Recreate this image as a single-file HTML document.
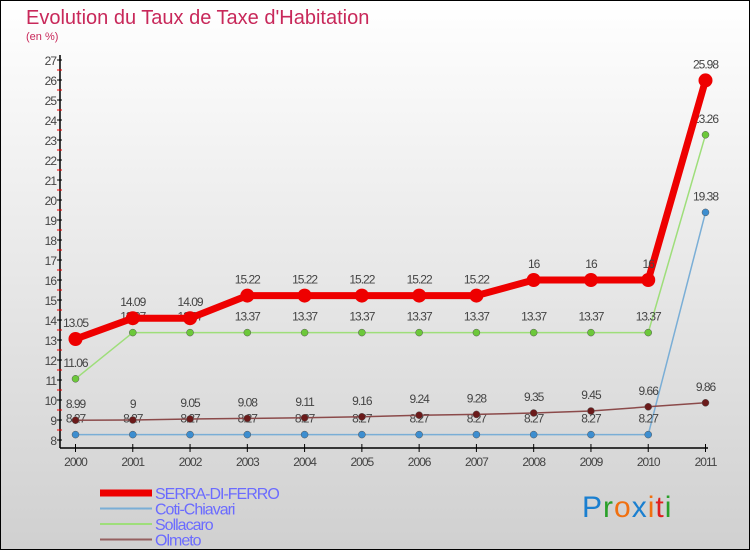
<!DOCTYPE html>
<html><head><meta charset="utf-8"><style>
body{margin:0;}
#c{width:750px;height:550px;position:relative;box-sizing:border-box;border:1px solid #000;background:linear-gradient(#ffffff,#d0d0d0);font-family:"Liberation Sans",sans-serif;overflow:hidden}
</style></head><body>
<div id="c">
<svg id="s" width="750" height="550" style="position:absolute;left:-1px;top:-1px" font-family="Liberation Sans, sans-serif">
<text x="26" y="24" font-size="20" fill="#c8285a">Evolution du Taux de Taxe d'Habitation</text>
<text x="26" y="40" font-size="11" fill="#c8285a">(en %)</text>
</svg>
</div>
<script>
const years=["2000","2001","2002","2003","2004","2005","2006","2007","2008","2009","2010","2011"];
const serra=[13.05,14.09,14.09,15.22,15.22,15.22,15.22,15.22,16,16,16,25.98];
const coti=[8.27,8.27,8.27,8.27,8.27,8.27,8.27,8.27,8.27,8.27,8.27,19.38];
const sollacaro=[11.06,13.37,13.37,13.37,13.37,13.37,13.37,13.37,13.37,13.37,13.37,23.26];
const olmeto=[8.99,9,9.05,9.08,9.11,9.16,9.24,9.28,9.35,9.45,9.66,9.86];
const yTicks=[8,9,10,11,12,13,14,15,16,17,18,19,20,21,22,23,24,25,26,27];
const NS="http://www.w3.org/2000/svg";
const svg=document.getElementById('s');
const X=i=>75.5+i*(705.5-75.5)/(years.length-1);
const Y=v=>440-(v-8)*20;
function el(t,a,p){const e=document.createElementNS(NS,t);for(const k in a)e.setAttribute(k,a[k]);(p||svg).appendChild(e);return e;}
let ya=el('line',{x1:60,y1:55,x2:60,y2:448,stroke:'#000','stroke-width':1.5});


let xa=el('line',{x1:60,y1:448,x2:708,y2:448,stroke:'#000','stroke-width':1.5});


yTicks.forEach(v=>{
 el('line',{x1:57,y1:Y(v),x2:62,y2:Y(v),stroke:'#000'});
 if(v<27) el('line',{x1:57,y1:Y(v)-10,x2:62,y2:Y(v)-10,stroke:'#e00'});
 const t=el('text',{x:56,y:Y(v)+5,'font-size':12,fill:'#444','text-anchor':'end','letter-spacing':'-1'});
 t.textContent=v;
 
 
});
years.forEach((y,i)=>{
 el('line',{x1:X(i),y1:444,x2:X(i),y2:452,stroke:'#000'});
 const t=el('text',{x:X(i),y:466,'font-size':12,fill:'#444','text-anchor':'middle','letter-spacing':'-1'});
 t.textContent=y;
 
 
});
function series(data,color,dot,w,r,name,labels){
 const g=el('g',{});
 
 
 el('polyline',{points:data.map((v,i)=>X(i)+','+Y(v)).join(' '),fill:'none',stroke:color,'stroke-width':w},g);
 data.forEach((v,i)=>{
  const c=el('circle',{cx:X(i),cy:Y(v),r:r,fill:dot,stroke:w>2?'none':'#555','stroke-width':0.5},g);
  
  
  if(labels){const t=el('text',{x:X(i),y:Y(v)-12,'font-size':12,fill:'#444','text-anchor':'middle','letter-spacing':'-1'},g);
  t.textContent=String(v);
  
  }
 });
}
series(coti,'#7aaed6','#3d8ed0',1.5,3.5,'coti-chiavari',true);
series(olmeto,'#8b4a4a','#6b1a1a',1.5,3.5,'olmeto',true);
series(sollacaro,'#9ede7a','#6cc83a',1.5,3.5,'sollacaro',true);
series(serra,'#ee0000','#ee0000',7,7,'serra-di-ferro',true);
const leg=[['SERRA-DI-FERRO','#ee0000',7],['Coti-Chiavari','#7aaed6',2],['Sollacaro','#9ede7a',2],['Olmeto','#956060',2]];
leg.forEach((l,i)=>{
 const y=493+i*15.5;
 const g=el('g',{});
 
 
 el('line',{x1:100,y1:y,x2:152,y2:y,stroke:l[1],'stroke-width':l[2]},g);
 const t=el('text',{x:155,y:y+6,'font-size':16,fill:'#6b6bff','letter-spacing':'-1'},g);
 t.textContent=l[0];
});
const lg=el('text',{x:582,y:517,'font-size':30,'letter-spacing':'1'});


[['P','#1a7fd0'],['r','#2aa02a'],['o','#f07010'],['x','#1a7fd0'],['i','#f07010'],['t','#e02020'],['i','#2aa02a']].forEach(p=>{const s=el('tspan',{fill:p[1]},lg);s.textContent=p[0];});
</script>
</body></html>
